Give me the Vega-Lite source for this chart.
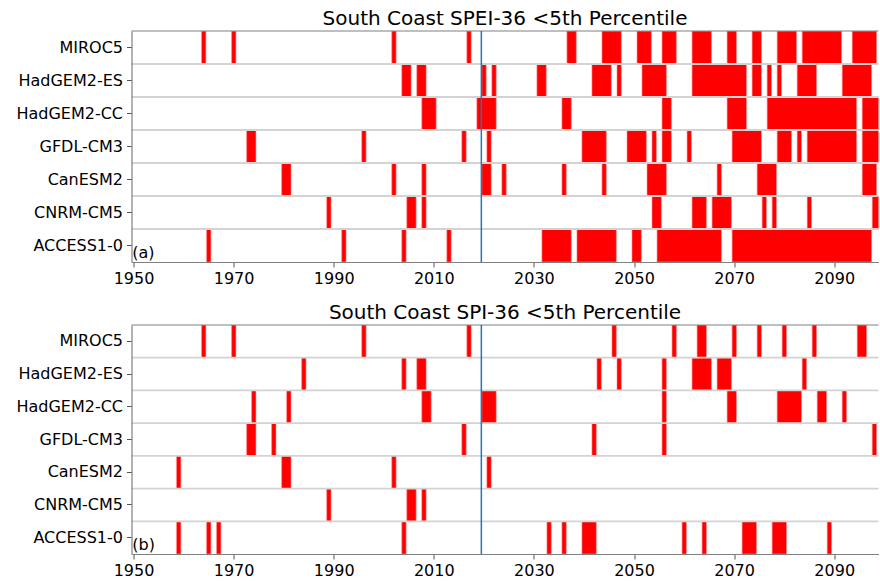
{
  "$schema": "https://vega.github.io/schema/vega-lite/v6.json",
  "padding": {"left": 15.5, "top": 9, "right": 0, "bottom": 2},
  "background": "white",
  "spacing": 17,
  "config": {
    "font": "DejaVu Sans",
    "view": {"stroke": null},
    "axis": {"labelFont": "DejaVu Sans", "labelFontSize": 16, "labelColor": "#000000", "tickColor": "#555555", "tickSize": 5, "domain": true, "domainColor": "#808080", "domainWidth": 1.2, "grid": false, "title": null},
    "axisX": {"labelPadding": 3, "labelFlush": false, "labelOverlap": false},
    "axisY": {"labelPadding": 4},
    "title": {"font": "DejaVu Sans", "fontSize": 20, "fontWeight": "normal", "color": "#000000", "offset": 1, "anchor": "middle"}
  },
  "datasets": {
    "bars": [
      {"p":"a","m":"MIROC5","s":1963.6,"e":1964.47},{"p":"a","m":"MIROC5","s":1969.6,"e":1970.47},{"p":"a","m":"MIROC5","s":2001.6,"e":2002.47},{"p":"a","m":"MIROC5","s":2016.6,"e":2017.47},{"p":"a","m":"MIROC5","s":2036.6,"e":2038.47},{"p":"a","m":"MIROC5","s":2043.6,"e":2047.47},{"p":"a","m":"MIROC5","s":2050.6,"e":2053.47},{"p":"a","m":"MIROC5","s":2055.6,"e":2058.47},{"p":"a","m":"MIROC5","s":2061.6,"e":2065.47},{"p":"a","m":"MIROC5","s":2068.6,"e":2070.47},{"p":"a","m":"MIROC5","s":2073.6,"e":2075.47},{"p":"a","m":"MIROC5","s":2078.6,"e":2082.47},{"p":"a","m":"MIROC5","s":2083.6,"e":2091.47},{"p":"a","m":"MIROC5","s":2093.6,"e":2098.47},
      {"p":"a","m":"HadGEM2-ES","s":2003.6,"e":2005.47},{"p":"a","m":"HadGEM2-ES","s":2006.6,"e":2008.47},{"p":"a","m":"HadGEM2-ES","s":2019.6,"e":2020.47},{"p":"a","m":"HadGEM2-ES","s":2021.6,"e":2022.47},{"p":"a","m":"HadGEM2-ES","s":2030.6,"e":2032.47},{"p":"a","m":"HadGEM2-ES","s":2041.6,"e":2045.47},{"p":"a","m":"HadGEM2-ES","s":2046.6,"e":2047.47},{"p":"a","m":"HadGEM2-ES","s":2051.6,"e":2056.47},{"p":"a","m":"HadGEM2-ES","s":2061.6,"e":2072.47},{"p":"a","m":"HadGEM2-ES","s":2073.6,"e":2075.47},{"p":"a","m":"HadGEM2-ES","s":2076.6,"e":2077.47},{"p":"a","m":"HadGEM2-ES","s":2078.6,"e":2079.47},{"p":"a","m":"HadGEM2-ES","s":2082.6,"e":2086.47},{"p":"a","m":"HadGEM2-ES","s":2091.6,"e":2097.47},
      {"p":"a","m":"HadGEM2-CC","s":2007.6,"e":2010.47},{"p":"a","m":"HadGEM2-CC","s":2018.6,"e":2022.47},{"p":"a","m":"HadGEM2-CC","s":2035.6,"e":2037.47},{"p":"a","m":"HadGEM2-CC","s":2055.6,"e":2057.47},{"p":"a","m":"HadGEM2-CC","s":2068.6,"e":2072.47},{"p":"a","m":"HadGEM2-CC","s":2076.6,"e":2094.47},{"p":"a","m":"HadGEM2-CC","s":2095.6,"e":2100},
      {"p":"a","m":"GFDL-CM3","s":1972.6,"e":1974.47},{"p":"a","m":"GFDL-CM3","s":1995.6,"e":1996.47},{"p":"a","m":"GFDL-CM3","s":2015.6,"e":2016.47},{"p":"a","m":"GFDL-CM3","s":2020.6,"e":2021.47},{"p":"a","m":"GFDL-CM3","s":2039.6,"e":2044.47},{"p":"a","m":"GFDL-CM3","s":2048.6,"e":2052.47},{"p":"a","m":"GFDL-CM3","s":2053.6,"e":2054.47},{"p":"a","m":"GFDL-CM3","s":2055.6,"e":2057.47},{"p":"a","m":"GFDL-CM3","s":2060.6,"e":2061.47},{"p":"a","m":"GFDL-CM3","s":2069.6,"e":2075.47},{"p":"a","m":"GFDL-CM3","s":2078.6,"e":2081.47},{"p":"a","m":"GFDL-CM3","s":2082.6,"e":2083.47},{"p":"a","m":"GFDL-CM3","s":2084.6,"e":2094.47},{"p":"a","m":"GFDL-CM3","s":2095.6,"e":2100},
      {"p":"a","m":"CanESM2","s":1979.6,"e":1981.47},{"p":"a","m":"CanESM2","s":2001.6,"e":2002.47},{"p":"a","m":"CanESM2","s":2007.6,"e":2008.47},{"p":"a","m":"CanESM2","s":2019.6,"e":2021.47},{"p":"a","m":"CanESM2","s":2023.6,"e":2024.47},{"p":"a","m":"CanESM2","s":2035.6,"e":2036.47},{"p":"a","m":"CanESM2","s":2043.6,"e":2044.47},{"p":"a","m":"CanESM2","s":2052.6,"e":2056.47},{"p":"a","m":"CanESM2","s":2066.6,"e":2067.47},{"p":"a","m":"CanESM2","s":2074.6,"e":2078.47},{"p":"a","m":"CanESM2","s":2095.6,"e":2098.47},
      {"p":"a","m":"CNRM-CM5","s":1988.6,"e":1989.47},{"p":"a","m":"CNRM-CM5","s":2004.6,"e":2006.47},{"p":"a","m":"CNRM-CM5","s":2007.6,"e":2008.47},{"p":"a","m":"CNRM-CM5","s":2053.6,"e":2055.47},{"p":"a","m":"CNRM-CM5","s":2061.6,"e":2064.47},{"p":"a","m":"CNRM-CM5","s":2065.6,"e":2069.47},{"p":"a","m":"CNRM-CM5","s":2075.6,"e":2076.47},{"p":"a","m":"CNRM-CM5","s":2077.6,"e":2078.47},{"p":"a","m":"CNRM-CM5","s":2084.6,"e":2085.47},{"p":"a","m":"CNRM-CM5","s":2097.6,"e":2100},
      {"p":"a","m":"ACCESS1-0","s":1964.6,"e":1965.47},{"p":"a","m":"ACCESS1-0","s":1991.6,"e":1992.47},{"p":"a","m":"ACCESS1-0","s":2003.6,"e":2004.47},{"p":"a","m":"ACCESS1-0","s":2012.6,"e":2013.47},{"p":"a","m":"ACCESS1-0","s":2031.6,"e":2037.47},{"p":"a","m":"ACCESS1-0","s":2038.6,"e":2046.47},{"p":"a","m":"ACCESS1-0","s":2049.6,"e":2051.47},{"p":"a","m":"ACCESS1-0","s":2054.6,"e":2067.47},{"p":"a","m":"ACCESS1-0","s":2069.6,"e":2097.47},
      {"p":"b","m":"MIROC5","s":1963.6,"e":1964.47},{"p":"b","m":"MIROC5","s":1969.6,"e":1970.47},{"p":"b","m":"MIROC5","s":1995.6,"e":1996.47},{"p":"b","m":"MIROC5","s":2016.6,"e":2017.47},{"p":"b","m":"MIROC5","s":2045.6,"e":2046.47},{"p":"b","m":"MIROC5","s":2057.6,"e":2058.47},{"p":"b","m":"MIROC5","s":2062.6,"e":2064.47},{"p":"b","m":"MIROC5","s":2069.6,"e":2070.47},{"p":"b","m":"MIROC5","s":2074.6,"e":2075.47},{"p":"b","m":"MIROC5","s":2079.6,"e":2080.47},{"p":"b","m":"MIROC5","s":2085.6,"e":2086.47},{"p":"b","m":"MIROC5","s":2094.6,"e":2096.47},
      {"p":"b","m":"HadGEM2-ES","s":1983.6,"e":1984.47},{"p":"b","m":"HadGEM2-ES","s":2003.6,"e":2004.47},{"p":"b","m":"HadGEM2-ES","s":2006.6,"e":2008.47},{"p":"b","m":"HadGEM2-ES","s":2042.6,"e":2043.47},{"p":"b","m":"HadGEM2-ES","s":2046.6,"e":2047.47},{"p":"b","m":"HadGEM2-ES","s":2055.6,"e":2056.47},{"p":"b","m":"HadGEM2-ES","s":2061.6,"e":2065.47},{"p":"b","m":"HadGEM2-ES","s":2066.6,"e":2069.47},{"p":"b","m":"HadGEM2-ES","s":2083.6,"e":2084.47},
      {"p":"b","m":"HadGEM2-CC","s":1973.6,"e":1974.47},{"p":"b","m":"HadGEM2-CC","s":1980.6,"e":1981.47},{"p":"b","m":"HadGEM2-CC","s":2007.6,"e":2009.47},{"p":"b","m":"HadGEM2-CC","s":2019.6,"e":2022.47},{"p":"b","m":"HadGEM2-CC","s":2055.6,"e":2056.47},{"p":"b","m":"HadGEM2-CC","s":2068.6,"e":2070.47},{"p":"b","m":"HadGEM2-CC","s":2078.6,"e":2083.47},{"p":"b","m":"HadGEM2-CC","s":2086.6,"e":2088.47},{"p":"b","m":"HadGEM2-CC","s":2091.6,"e":2092.47},
      {"p":"b","m":"GFDL-CM3","s":1972.6,"e":1974.47},{"p":"b","m":"GFDL-CM3","s":1977.6,"e":1978.47},{"p":"b","m":"GFDL-CM3","s":2015.6,"e":2016.47},{"p":"b","m":"GFDL-CM3","s":2041.6,"e":2042.47},{"p":"b","m":"GFDL-CM3","s":2055.6,"e":2056.47},{"p":"b","m":"GFDL-CM3","s":2097.6,"e":2098.47},
      {"p":"b","m":"CanESM2","s":1958.6,"e":1959.47},{"p":"b","m":"CanESM2","s":1979.6,"e":1981.47},{"p":"b","m":"CanESM2","s":2001.6,"e":2002.47},{"p":"b","m":"CanESM2","s":2020.6,"e":2021.47},
      {"p":"b","m":"CNRM-CM5","s":1988.6,"e":1989.47},{"p":"b","m":"CNRM-CM5","s":2004.6,"e":2006.47},{"p":"b","m":"CNRM-CM5","s":2007.6,"e":2008.47},
      {"p":"b","m":"ACCESS1-0","s":1958.6,"e":1959.47},{"p":"b","m":"ACCESS1-0","s":1964.6,"e":1965.47},{"p":"b","m":"ACCESS1-0","s":1966.6,"e":1967.47},{"p":"b","m":"ACCESS1-0","s":2003.6,"e":2004.47},{"p":"b","m":"ACCESS1-0","s":2032.6,"e":2033.47},{"p":"b","m":"ACCESS1-0","s":2035.6,"e":2036.47},{"p":"b","m":"ACCESS1-0","s":2039.6,"e":2042.47},{"p":"b","m":"ACCESS1-0","s":2059.6,"e":2060.47},{"p":"b","m":"ACCESS1-0","s":2063.6,"e":2064.47},{"p":"b","m":"ACCESS1-0","s":2071.6,"e":2074.47},{"p":"b","m":"ACCESS1-0","s":2077.6,"e":2080.47},{"p":"b","m":"ACCESS1-0","s":2088.6,"e":2089.47}
    ],
    "seps": [{"m":"HadGEM2-ES"},{"m":"HadGEM2-CC"},{"m":"GFDL-CM3"},{"m":"CanESM2"},{"m":"CNRM-CM5"},{"m":"ACCESS1-0"}],
    "top": [{"m":"MIROC5"}],
    "present": [{"p":"a","x":2019.5},{"p":"b","x":2019.5}],
    "tags": [{"p":"a","t":"(a)","x":1949.75,"m":"ACCESS1-0"},{"p":"b","t":"(b)","x":1949.75,"m":"ACCESS1-0"}]
  },
  "vconcat": [
    {
      "title": {"text": "South Coast SPEI-36 <5th Percentile"},
      "width": 747, "height": 231,
      "layer": [
        {"data": {"name": "bars"}, "transform": [{"filter": "datum.p === 'a'"}],
         "mark": {"type": "rect", "color": "#ff0000", "stroke": "#ff8c8c", "strokeWidth": 0.6, "clip": true},
         "encoding": {
           "x": {"field": "s", "type": "quantitative", "scale": {"domain": [1949.6, 2098.85], "nice": false, "zero": false}, "axis": {"values": [1950,1970,1990,2010,2030,2050,2070,2090], "format": "d"}},
           "x2": {"field": "e"},
           "y": {"field": "m", "type": "nominal", "sort": ["MIROC5","HadGEM2-ES","HadGEM2-CC","GFDL-CM3","CanESM2","CNRM-CM5","ACCESS1-0"], "scale": {"paddingInner": 0, "paddingOuter": 0}}
         }},
        {"data": {"name": "seps"}, "mark": {"type": "rule", "color": "#d3d3d3", "strokeWidth": 1.8},
         "encoding": {"y": {"field": "m", "type": "nominal", "sort": ["MIROC5","HadGEM2-ES","HadGEM2-CC","GFDL-CM3","CanESM2","CNRM-CM5","ACCESS1-0"], "bandPosition": 0}}},
        {"data": {"name": "top"}, "mark": {"type": "rule", "color": "#808080", "strokeWidth": 1.2},
         "encoding": {"y": {"field": "m", "type": "nominal", "sort": ["MIROC5","HadGEM2-ES","HadGEM2-CC","GFDL-CM3","CanESM2","CNRM-CM5","ACCESS1-0"], "bandPosition": 0}}},
        {"data": {"name": "present"}, "transform": [{"filter": "datum.p === 'a'"}], "mark": {"type": "rule", "color": "#1f77b4", "strokeWidth": 1.5},
         "encoding": {"x": {"field": "x", "type": "quantitative"}}},
        {"data": {"name": "tags"}, "transform": [{"filter": "datum.p === 'a'"}], "mark": {"type": "text", "align": "left", "baseline": "alphabetic", "fontSize": 16, "font": "DejaVu Sans", "color": "#000000"},
         "encoding": {"x": {"field": "x", "type": "quantitative"}, "y": {"field": "m", "type": "nominal", "sort": ["MIROC5","HadGEM2-ES","HadGEM2-CC","GFDL-CM3","CanESM2","CNRM-CM5","ACCESS1-0"], "bandPosition": 0.88}, "text": {"field": "t"}}}
      ]
    },
    {
      "title": {"text": "South Coast SPI-36 <5th Percentile"},
      "width": 747, "height": 229,
      "layer": [
        {"data": {"name": "bars"}, "transform": [{"filter": "datum.p === 'b'"}],
         "mark": {"type": "rect", "color": "#ff0000", "stroke": "#ff8c8c", "strokeWidth": 0.6, "clip": true},
         "encoding": {
           "x": {"field": "s", "type": "quantitative", "scale": {"domain": [1949.6, 2098.85], "nice": false, "zero": false}, "axis": {"values": [1950,1970,1990,2010,2030,2050,2070,2090], "format": "d"}},
           "x2": {"field": "e"},
           "y": {"field": "m", "type": "nominal", "sort": ["MIROC5","HadGEM2-ES","HadGEM2-CC","GFDL-CM3","CanESM2","CNRM-CM5","ACCESS1-0"], "scale": {"paddingInner": 0, "paddingOuter": 0}}
         }},
        {"data": {"name": "seps"}, "mark": {"type": "rule", "color": "#d3d3d3", "strokeWidth": 1.8},
         "encoding": {"y": {"field": "m", "type": "nominal", "sort": ["MIROC5","HadGEM2-ES","HadGEM2-CC","GFDL-CM3","CanESM2","CNRM-CM5","ACCESS1-0"], "bandPosition": 0}}},
        {"data": {"name": "top"}, "mark": {"type": "rule", "color": "#808080", "strokeWidth": 1.2},
         "encoding": {"y": {"field": "m", "type": "nominal", "sort": ["MIROC5","HadGEM2-ES","HadGEM2-CC","GFDL-CM3","CanESM2","CNRM-CM5","ACCESS1-0"], "bandPosition": 0}}},
        {"data": {"name": "present"}, "transform": [{"filter": "datum.p === 'b'"}], "mark": {"type": "rule", "color": "#1f77b4", "strokeWidth": 1.5},
         "encoding": {"x": {"field": "x", "type": "quantitative"}}},
        {"data": {"name": "tags"}, "transform": [{"filter": "datum.p === 'b'"}], "mark": {"type": "text", "align": "left", "baseline": "alphabetic", "fontSize": 16, "font": "DejaVu Sans", "color": "#000000"},
         "encoding": {"x": {"field": "x", "type": "quantitative"}, "y": {"field": "m", "type": "nominal", "sort": ["MIROC5","HadGEM2-ES","HadGEM2-CC","GFDL-CM3","CanESM2","CNRM-CM5","ACCESS1-0"], "bandPosition": 0.88}, "text": {"field": "t"}}}
      ]
    }
  ]
}
